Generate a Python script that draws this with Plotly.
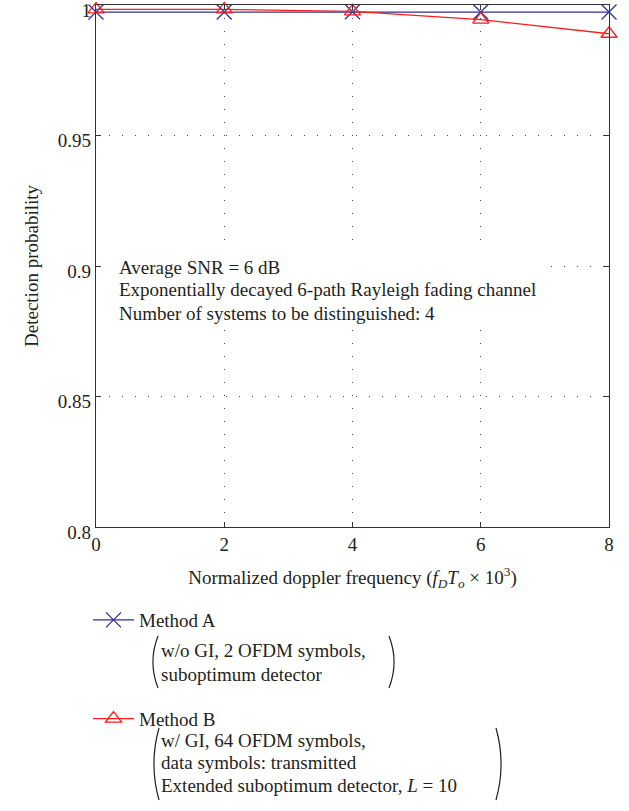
import plotly.graph_objects as go

x_vals = [0, 2, 4, 6, 8]
method_a = [0.9973, 0.9973, 0.9974, 0.9973, 0.9973]
method_b = [0.9983, 0.9983, 0.9976, 0.9944, 0.9890]
x_ticks = [0, 2, 4, 6, 8]
y_ticks = [0.8, 0.85, 0.9, 0.95, 1.0]
y_tick_text = ["0.8", "0.85", "0.9", "0.95", "1"]

FONT = "Liberation Serif"
FS = 19
BLUE = "#2E3192"
RED = "#FF1C1C"
INK = "#231F20"

# plot area in pixels
L, R, T, B = 96, 609, 5, 527
W, H = 629, 811
PW, PH = R - L, B - T


def px(x):
    return (x - L) / PW


def py(y):
    return (B - y) / PH


fig = go.Figure()
fig.add_trace(go.Scatter(
    x=x_vals, y=method_a, name="Method A", mode="lines+markers", legendgroup="a",
    line=dict(color=BLUE, width=1.3),
    marker=dict(symbol="x-thin-open", size=15, line=dict(color=BLUE, width=1.3)),
    cliponaxis=False,
))
fig.add_trace(go.Scatter(
    x=x_vals, y=method_b, name="Method B", mode="lines+markers", legendgroup="b",
    line=dict(color=RED, width=1.3),
    marker=dict(symbol="triangle-up-open", size=14, color=RED, line=dict(color=RED, width=1.3)),
    cliponaxis=False,
))

fig.update_layout(
    width=W, height=H,
    margin=dict(l=L, r=W - R, t=T, b=H - B, autoexpand=False),
    paper_bgcolor="white", plot_bgcolor="white",
    font=dict(family=FONT, size=FS, color=INK),
    showlegend=True,
    legend=dict(
        x=px(88), y=py(601), xanchor="left", yanchor="top",
        font=dict(family=FONT, size=FS, color=INK),
        tracegroupgap=71, traceorder="grouped",
        bgcolor="rgba(0,0,0,0)", itemwidth=41,
    ),
)
fig.update_xaxes(
    range=[0, 8], tickvals=x_ticks, ticktext=[str(v) for v in x_ticks],
    showline=True, linecolor="#333", linewidth=1.3, mirror="ticks",
    ticks="inside", ticklen=5, tickcolor="#333",
    showgrid=True, gridcolor="#444", griddash="1px,12px", gridwidth=1,
    zeroline=False, automargin=False,
    title=dict(text="Normalized doppler frequency (<i>f<sub>D</sub>T<sub>o</sub></i> × 10<sup>3</sup>)",
               font=dict(size=FS), standoff=16),
    tickfont=dict(size=FS),
)
fig.update_yaxes(
    range=[0.79999, 1.00001], tickvals=y_ticks, ticktext=y_tick_text,
    showline=True, linecolor="#333", linewidth=1.3, mirror="ticks",
    ticks="inside", ticklen=5, tickcolor="#333", ticklabeloverflow="allow",
    ticklabelshift=5,
    showgrid=True, gridcolor="#444", griddash="1px,12px", gridwidth=1,
    zeroline=False, automargin=False,
    title=dict(text="Detection probability", font=dict(size=FS), standoff=14),
    tickfont=dict(size=FS),
)

# white box behind the note text (covers gridlines)
shapes = [dict(
    type="rect", xref="paper", yref="paper", layer="above",
    x0=px(107), x1=px(546), y0=py(250), y1=py(330),
    fillcolor="white", line=dict(width=0),
)]

note_lines = [
    "Average SNR = 6 dB",
    "Exponentially decayed 6-path Rayleigh fading channel",
    "Number of systems to be distinguished: 4",
]
for i, t in enumerate(note_lines):
    fig.add_annotation(
        xref="paper", yref="paper", x=px(117), y=py(267 + 23 * i),
        xanchor="left", yanchor="middle", showarrow=False, align="left",
        text=t, font=dict(family=FONT, size=FS, color=INK),
    )

# legend descriptions
desc_a = ["w/o GI, 2 OFDM symbols,", "suboptimum detector"]
desc_b = ["w/ GI, 64 OFDM symbols,", "data symbols: transmitted",
          "Extended suboptimum detector, <i>L</i> = 10"]
for i, t in enumerate(desc_a):
    fig.add_annotation(
        xref="paper", yref="paper", x=px(159), y=py(650 + 24 * i),
        xanchor="left", yanchor="middle", showarrow=False, align="left",
        text=t, font=dict(family=FONT, size=FS, color=INK),
    )
for i, t in enumerate(desc_b):
    fig.add_annotation(
        xref="paper", yref="paper", x=px(159), y=py(740 + 22.5 * i),
        xanchor="left", yanchor="middle", showarrow=False, align="left",
        text=t, font=dict(family=FONT, size=FS, color=INK),
    )


def paren(x, y0, y1, left=True):
    d = 7 if left else -7
    xm = x
    xe = x + d
    ym = (y0 + y1) / 2
    return dict(
        type="path", xref="paper", yref="paper",
        path=f"M {px(xe)},{py(y0)} Q {px(xm - d * 0.45)},{py(ym)} {px(xe)},{py(y1)}",
        line=dict(color=INK, width=1.2),
    )


shapes += [
    paren(151, 636, 688, True),
    paren(396, 636, 688, False),
    paren(152, 728, 800, True),
    paren(503, 728, 800, False),
]
fig.update_layout(shapes=shapes)

fig.write_html("out.html", config={"displayModeBar": False},
               post_script="document.body.style.margin='0';")
